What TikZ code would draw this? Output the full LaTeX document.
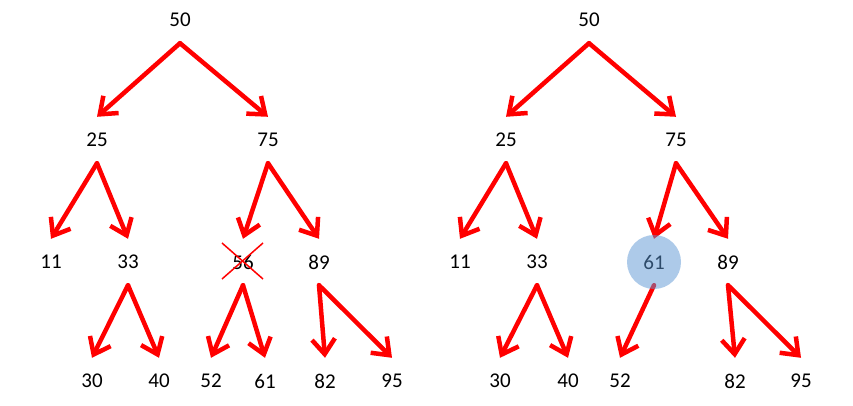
\documentclass[tikz,border=0pt]{standalone}
\usepackage{fontspec}
\setmainfont{Carlito}
\usetikzlibrary{arrows.meta}
\definecolor{moved}{RGB}{92,150,212}
\begin{document}
\begin{tikzpicture}[x=1pt,y=-1pt,
      >={Straight Barb[length=15pt,width=23pt,line width=4.5pt]},
      key node/.style={font=\fontsize{21}{24}\selectfont,minimum height=46pt,inner sep=0pt},
      link/.style={->,red,line width=4.5pt,line cap=round,line join=miter},
      strike/.style={red,line width=1.5pt}]
      \useasboundingbox (0,0) rectangle (853,406);
      % left tree
      \node[key node] (a50) at (180,20) {50};
      \node[key node] (a25) at (97,140) {25};
      \node[key node] (a75) at (268,140) {75};
      \node[key node] (a11) at (51,262) {11};
      \node[key node] (a33) at (128,262) {33};
      \node[key node] (a56) at (243,262) {56};
      \node[key node] (a89) at (319,262) {89};
      \node[key node] (a30) at (92,381) {30};
      \node[key node] (a40) at (159,381) {40};
      \node[key node] (a52) at (211,381) {52};
      \node[key node] (a61) at (265,381) {61};
      \node[key node] (a82) at (325,381) {82};
      \node[key node] (a95) at (392,381) {95};

      \draw[link] (a50.south) -- (a25.north);
      \draw[link] (a50.south) -- (a75.north);
      \draw[link] (a25.south) -- (a11.north);
      \draw[link] (a25.south) -- (a33.north);
      \draw[link] (a75.south) -- (a56.north);
      \draw[link] (a75.south) -- (a89.north);
      \draw[link] (a33.south) -- (a30.north);
      \draw[link] (a33.south) -- (a40.north);
      \draw[link] (a56.south) -- (a52.north);
      \draw[link] (a56.south) -- (a61.north);
      \draw[link] (a89.south) -- (a82.north);
      \draw[link] (a89.south) -- (a95.north);

      % 56 is deleted
      \draw[strike] (a56.center) +(-21,-19) -- +(20,17) +(-21,17) -- +(20,-19);

      % right tree
      \node[key node] (b50) at (589,20) {50};
      \node[key node] (b25) at (506,140) {25};
      \node[key node] (b75) at (676,140) {75};
      \node[key node] (b11) at (460,262) {11};
      \node[key node] (b33) at (537,262) {33};
      \node[key node] (b61) at (654,262) {61};
      \node[key node] (b89) at (728,262) {89};
      \node[key node] (b30) at (500,381) {30};
      \node[key node] (b40) at (568,381) {40};
      \node[key node] (b52) at (620,381) {52};
      \node[key node] (b82) at (735,381) {82};
      \node[key node] (b95) at (801,381) {95};

      \draw[link] (b50.south) -- (b25.north);
      \draw[link] (b50.south) -- (b75.north);
      \draw[link] (b25.south) -- (b11.north);
      \draw[link] (b25.south) -- (b33.north);
      \draw[link] (b75.south) -- (b61.north);
      \draw[link] (b75.south) -- (b89.north);
      \draw[link] (b33.south) -- (b30.north);
      \draw[link] (b33.south) -- (b40.north);
      \draw[link] (b61.south) -- (b52.north);
      \draw[link] (b89.south) -- (b82.north);
      \draw[link] (b89.south) -- (b95.north);

      % 61 moved up
      \fill[moved,fill opacity=0.5] (b61.center) circle (27);
\end{tikzpicture}
\end{document}
